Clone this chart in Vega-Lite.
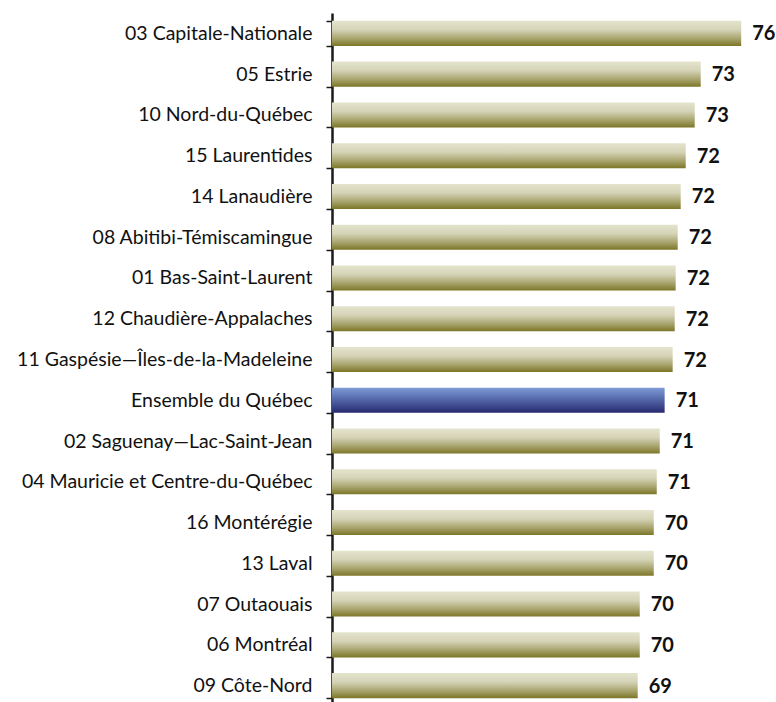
{
  "$schema": "https://vega.github.io/schema/vega-lite/v6.json",
  "autosize": {"type": "none"},
  "width": 441,
  "height": 689,
  "padding": {"left": 332, "top": 13, "right": 3, "bottom": 0},
  "background": "white",
  "config": {"view": {"stroke": null}, "font": "Lato"},
  "data": {
    "values": [
      {"region": "03 Capitale-Nationale", "value": 75.98, "label": "76"},
      {"region": "05 Estrie", "value": 73.41, "label": "73"},
      {"region": "10 Nord-du-Québec", "value": 73.03, "label": "73"},
      {"region": "15 Laurentides", "value": 72.46, "label": "72"},
      {"region": "14 Lanaudière", "value": 72.14, "label": "72"},
      {"region": "08 Abitibi-Témiscamingue", "value": 71.95, "label": "72"},
      {"region": "01 Bas-Saint-Laurent", "value": 71.82, "label": "72"},
      {"region": "12 Chaudière-Appalaches", "value": 71.76, "label": "72"},
      {"region": "11 Gaspésie—Îles-de-la-Madeleine", "value": 71.63, "label": "72"},
      {"region": "Ensemble du Québec", "value": 71.12, "label": "71"},
      {"region": "02 Saguenay—Lac-Saint-Jean", "value": 70.81, "label": "71"},
      {"region": "04 Mauricie et Centre-du-Québec", "value": 70.62, "label": "71"},
      {"region": "16 Montérégie", "value": 70.43, "label": "70"},
      {"region": "13 Laval", "value": 70.43, "label": "70"},
      {"region": "07 Outaouais", "value": 69.54, "label": "70"},
      {"region": "06 Montréal", "value": 69.54, "label": "70"},
      {"region": "09 Côte-Nord", "value": 69.41, "label": "69"}
    ]
  },
  "encoding": {
    "y": {
      "field": "region",
      "type": "nominal",
      "sort": null,
      "scale": {"range": [0, 693], "paddingInner": 0.385, "paddingOuter": 0.1925},
      "axis": {
        "title": null,
        "labelFont": "Lato",
        "labelFontSize": 19.5,
        "labelColor": "#111111",
        "labelPadding": 14,
        "labelLimit": 400,
        "tickSize": 6,
        "tickBand": "extent",
        "tickColor": "#1a1a1a",
        "tickWidth": 1.5,
        "domainColor": "#1a1a1a",
        "domainWidth": 2.5
      }
    },
    "x": {
      "field": "value",
      "type": "quantitative",
      "scale": {"domain": [50, 78], "nice": false, "zero": false},
      "axis": null
    }
  },
  "layer": [
    {
      "mark": {"type": "bar", "stroke": null},
      "encoding": {
        "x2": {"datum": 50},
        "fill": {
          "condition": {
            "test": "datum.region === 'Ensemble du Québec'",
            "value": {
              "gradient": "linear", "x1": 0, "y1": 0, "x2": 0, "y2": 1,
              "stops": [
                {"offset": 0, "color": "#7f9bd5"},
                {"offset": 0.4, "color": "#5a6fb0"},
                {"offset": 1, "color": "#262a6e"}
              ]
            }
          },
          "value": {
            "gradient": "linear", "x1": 0, "y1": 0, "x2": 0, "y2": 1,
            "stops": [
              {"offset": 0, "color": "#e4e4cd"},
              {"offset": 0.35, "color": "#d5d4b8"},
              {"offset": 0.7, "color": "#a9a56f"},
              {"offset": 1, "color": "#7c7627"}
            ]
          }
        }
      }
    },
    {
      "mark": {
        "type": "text",
        "align": "left",
        "baseline": "middle",
        "dx": 11,
        "dy": 1,
        "font": "Lato",
        "fontSize": 20,
        "fontWeight": "bold",
        "color": "#111111"
      },
      "encoding": {"text": {"field": "label"}}
    }
  ]
}
